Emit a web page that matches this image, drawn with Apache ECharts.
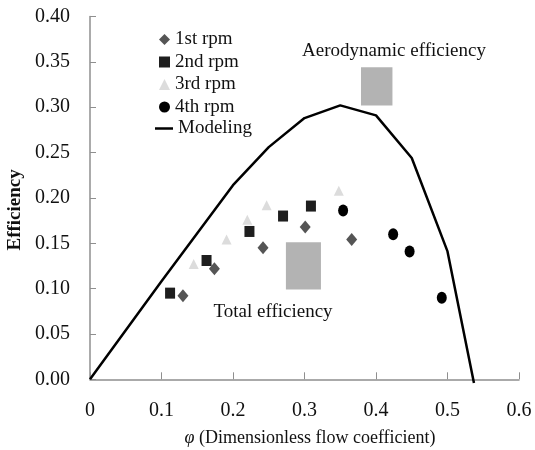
<!DOCTYPE html>
<html>
<head>
<meta charset="utf-8">
<script src="https://cdn.jsdelivr.net/npm/echarts@6/dist/echarts.min.js"></script>
<style>html,body{margin:0;padding:0;background:#fff}#c{width:535px;height:450px}</style>
</head>
<body>
<div id="c"></div>
<script>
var rpm1 = [[0.130,0.092],[0.174,0.122],[0.242,0.145],[0.301,0.168],[0.366,0.154]];
var rpm2 = [[0.112,0.095],[0.163,0.131],[0.223,0.163],[0.270,0.180],[0.309,0.191]];
var rpm3 = [[0.145,0.127],[0.191,0.154],[0.220,0.176],[0.247,0.192],[0.348,0.208]];
var rpm4 = [[0.354,0.186],[0.424,0.160],[0.447,0.141],[0.492,0.090]];
var modeling = [[0,0],[0.1,0.108],[0.2,0.214],[0.25,0.256],[0.3,0.288],[0.35,0.302],[0.4,0.291],[0.45,0.244],[0.5,0.141],[0.537,-0.004]];
var seriesNames = ['1st rpm','2nd rpm','3rd rpm','4th rpm','Modeling'];
var aeroBox = [[0.379,0.302],[0.423,0.344]];
var totalBox = [[0.274,0.099],[0.323,0.151]];
var annotations = ['Aerodynamic efficiency','Total efficiency'];
var xTitle = '(Dimensionless flow coefficient)';
var yTitle = 'Efficiency';

var FONT = '"Liberation Serif", "DejaVu Serif", serif';
var chart = echarts.init(document.getElementById('c'), null, {renderer:'canvas'});
var legendText = {fontFamily:FONT,fontSize:19,color:'#111'};
chart.setOption({
  animation:false,
  backgroundColor:'#fff',
  textStyle:{fontFamily:FONT},
  grid:{left:90,right:16,top:16.5,bottom:70.7,containLabel:false,outerBoundsMode:'none'},
  legend:[{
    orient:'vertical', left:154, top:25, itemWidth:11, itemHeight:11, itemGap:3.5,
    textStyle:legendText,
    data:seriesNames.slice(0,4)
  },{
    orient:'vertical', left:150, top:114, itemWidth:18, itemHeight:2.5, itemGap:3,
    textStyle:legendText, icon:'rect',
    data:[seriesNames[4]]
  }],
  xAxis:{
    type:'value', min:0, max:0.6, interval:0.1,
    axisLine:{lineStyle:{color:'#8f8f8f',width:1.5}},
    axisTick:{inside:true,length:7,lineStyle:{color:'#8f8f8f'}},
    splitLine:{show:false},
    axisLabel:{margin:21,fontSize:20,color:'#111',fontFamily:FONT,
      formatter:function(v){return v===0?'0':v.toFixed(1);}},
    name:'{i|φ} '+xTitle, nameLocation:'middle', nameGap:50,
    nameTextStyle:{fontFamily:FONT,fontSize:18,color:'#111',padding:[0,0,0,11],
      rich:{i:{fontStyle:'italic',fontFamily:FONT,fontSize:18,color:'#111'}}}
  },
  yAxis:{
    type:'value', min:0, max:0.4, interval:0.05,
    axisLine:{show:true,lineStyle:{color:'#8f8f8f',width:1.5}},
    axisTick:{show:true,inside:true,length:6,lineStyle:{color:'#8f8f8f'}},
    splitLine:{show:false},
    axisLabel:{margin:20,fontSize:20,color:'#111',fontFamily:FONT,
      formatter:function(v){return v.toFixed(2);}},
    name:yTitle, nameLocation:'middle', nameGap:62, nameRotate:90,
    nameTextStyle:{fontFamily:FONT,fontSize:19,fontWeight:'bold',color:'#111',padding:[0,24,0,0]}
  },
  graphic:[
    {type:'text',x:394,y:51,style:{text:annotations[0],font:'19px '+FONT,fill:'#111',textAlign:'center',textVerticalAlign:'middle'}},
    {type:'text',x:273,y:312,style:{text:annotations[1],font:'19px '+FONT,fill:'#111',textAlign:'center',textVerticalAlign:'middle'}}
  ],
  series:[
    {name:seriesNames[0],type:'scatter',data:rpm1,symbol:'diamond',symbolSize:[11,13],itemStyle:{color:'#555555',opacity:1},z:5},
    {name:seriesNames[1],type:'scatter',data:rpm2,symbol:'rect',symbolSize:[10,11],itemStyle:{color:'#1e1e1e',opacity:1},z:5},
    {name:seriesNames[2],type:'scatter',data:rpm3,symbol:'triangle',symbolSize:[10,10],itemStyle:{color:'#dcdcdc',opacity:1},z:5},
    {name:seriesNames[3],type:'scatter',data:rpm4,symbol:'circle',symbolSize:[10,12],itemStyle:{color:'#000000',opacity:1},z:5},
    {name:seriesNames[4],type:'line',data:modeling,symbol:'none',showSymbol:false,clip:false,
      lineStyle:{color:'#000',width:2.5},itemStyle:{color:'#000'},z:4,
      markArea:{silent:true,itemStyle:{color:'#b3b3b3',opacity:1},
        data:[[{coord:aeroBox[0]},{coord:aeroBox[1]}],[{coord:totalBox[0]},{coord:totalBox[1]}]]}}
  ]
});
</script>
</body>
</html>
